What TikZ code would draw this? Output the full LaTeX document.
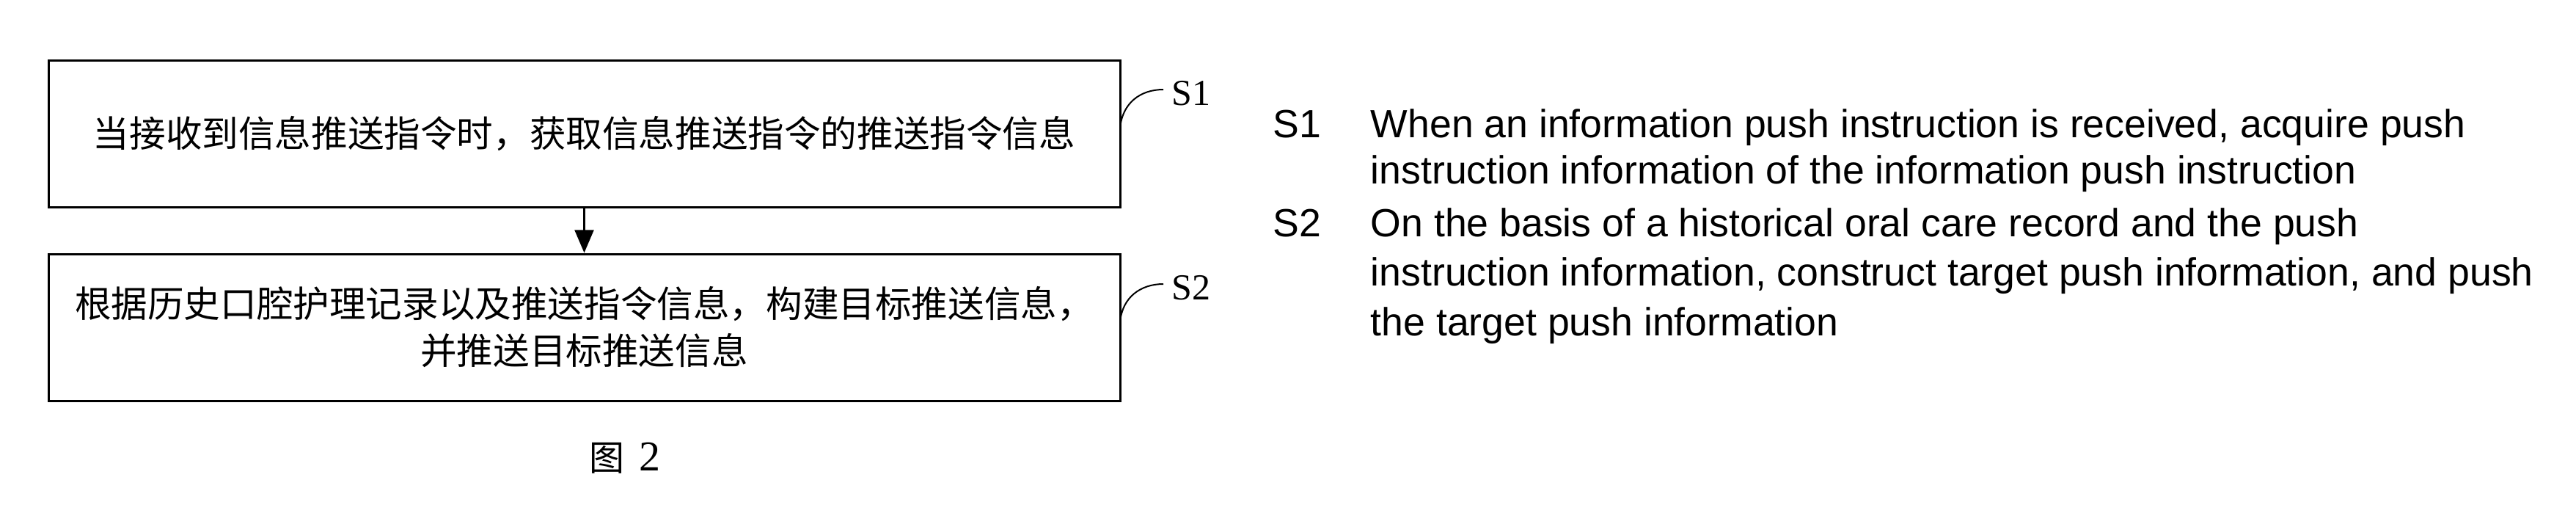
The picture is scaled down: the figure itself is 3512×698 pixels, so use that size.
\documentclass[tikz,border=0pt]{standalone}
\usepackage{fontspec}
\setmainfont{Liberation Serif}
\newfontfamily\cjk{Noto Sans CJK SC}
\newfontfamily\arial{Liberation Sans}
\newfontfamily\tnr{Liberation Serif}
\usetikzlibrary{arrows.meta}
\begin{document}
\begin{tikzpicture}[x=0.25pt,y=-0.25pt,
  stepbox/.style={draw=black,line width=0.75pt,minimum width=365.25pt,minimum height=50pt,inner sep=0pt,
    font=\cjk\fontsize{12.4}{16}\selectfont,align=center},
  slabel/.style={inner sep=0pt,anchor=base west,font=\tnr\fontsize{12.5}{15}\selectfont},
  engtext/.style={inner sep=0pt,anchor=base west,font=\arial\fontsize{13.4}{16}\selectfont},
  leader/.style={line width=0.5pt}]
\useasboundingbox (0,0) rectangle (3512,698);
% boxes
\node[stepbox] (b1) at (796.5,182) {当接收到信息推送指令时，获取信息推送指令的推送指令信息};
\node[stepbox] (b2) at (796.5,446) {根据历史口腔护理记录以及推送指令信息，构建目标推送信息，\\并推送目标推送信息};
\draw[line width=0.6pt,-{Triangle[length=7.8pt,width=6.5pt]}] (b1.south) -- (b2.north);
% step labels
\node[slabel] (l1) at (1597,143) {S1};
\node[slabel] (l2) at (1597,408) {S2};
\coordinate (c1a) at (1527,175);
\coordinate (c1b) at (1586,122);
\coordinate (c2a) at (1527,439);
\coordinate (c2b) at (1586,387);
\draw[leader] (c1a) .. controls (1530,140) and (1555,122) .. (c1b);
\draw[leader] (c2a) .. controls (1530,405) and (1555,387) .. (c2b);
% caption
\node[inner sep=0pt,anchor=base west] (cap) at (803,641) {{\cjk\fontsize{12}{14}\selectfont 图}\hspace{5pt}{\tnr\fontsize{14.5}{16}\selectfont 2}};
% english
\node[engtext] (e1) at (1735,187) {S1};
\node[engtext] (e1a) at (1868,187) {When an information push instruction is received, acquire push};
\node[engtext] (e1b) at (1868,250) {instruction information of the information push instruction};
\node[engtext] (e2) at (1735,322) {S2};
\node[engtext] (e2a) at (1868,322) {On the basis of a historical oral care record and the push};
\node[engtext] (e2b) at (1868,389) {instruction information, construct target push information, and push};
\node[engtext] (e2c) at (1868,457) {the target push information};
\end{tikzpicture}
\end{document}
